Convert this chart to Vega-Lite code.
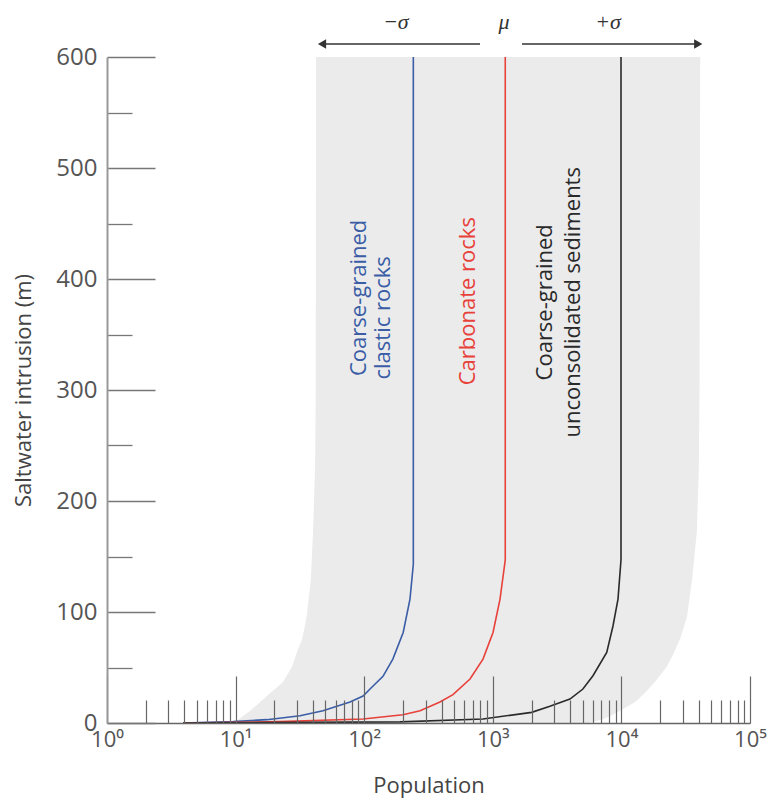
{
  "$schema": "https://vega.github.io/schema/vega-lite/v6.json",
  "width": 643,
  "height": 666,
  "autosize": {"type": "none"},
  "padding": {"left": 107, "top": 57, "right": 21, "bottom": 76},
  "background": "white",
  "config": {"view": {"stroke": null}, "font": "Open Sans"},
  "datasets": {
    "band": [
      {"y": 0, "pop": 9, "hi": 5500},
      {"y": 3, "pop": 10.5, "hi": 7000},
      {"y": 6.5, "pop": 11.5, "hi": 8300},
      {"y": 11, "pop": 13, "hi": 9750},
      {"y": 19, "pop": 15.5, "hi": 12800},
      {"y": 28, "pop": 19, "hi": 15500},
      {"y": 37, "pop": 23.4, "hi": 18200},
      {"y": 51, "pop": 27.5, "hi": 22600},
      {"y": 64, "pop": 30, "hi": 25800},
      {"y": 76, "pop": 33, "hi": 28600},
      {"y": 96, "pop": 35.7, "hi": 32400},
      {"y": 130, "pop": 38.5, "hi": 35500},
      {"y": 172, "pop": 40, "hi": 38600},
      {"y": 230, "pop": 41.5, "hi": 40000},
      {"y": 300, "pop": 42, "hi": 40500},
      {"y": 600, "pop": 42.2, "hi": 41000}
    ],
    "lines": [
      {"s": "clastic", "pop": 3.9, "y": 0},
      {"s": "clastic", "pop": 9.5, "y": 1.2},
      {"s": "clastic", "pop": 17.5, "y": 3},
      {"s": "clastic", "pop": 31.7, "y": 6.6},
      {"s": "clastic", "pop": 47.8, "y": 11},
      {"s": "clastic", "pop": 77.6, "y": 18.9},
      {"s": "clastic", "pop": 98, "y": 24.3},
      {"s": "clastic", "pop": 111, "y": 30.6},
      {"s": "clastic", "pop": 140, "y": 42},
      {"s": "clastic", "pop": 167, "y": 57.6},
      {"s": "clastic", "pop": 201, "y": 81.6},
      {"s": "clastic", "pop": 227, "y": 111.6},
      {"s": "clastic", "pop": 241, "y": 143},
      {"s": "clastic", "pop": 241, "y": 600},
      {"s": "carbonate", "pop": 3.9, "y": 0},
      {"s": "carbonate", "pop": 22, "y": 1.2},
      {"s": "carbonate", "pop": 98, "y": 3.6},
      {"s": "carbonate", "pop": 200, "y": 7.5},
      {"s": "carbonate", "pop": 272, "y": 11},
      {"s": "carbonate", "pop": 388, "y": 19},
      {"s": "carbonate", "pop": 490, "y": 25.5},
      {"s": "carbonate", "pop": 665, "y": 39.6},
      {"s": "carbonate", "pop": 839, "y": 57.6},
      {"s": "carbonate", "pop": 1004, "y": 81.6},
      {"s": "carbonate", "pop": 1138, "y": 111.6},
      {"s": "carbonate", "pop": 1250, "y": 147},
      {"s": "carbonate", "pop": 1250, "y": 600},
      {"s": "sediments", "pop": 3.9, "y": 0},
      {"s": "sediments", "pop": 190, "y": 1},
      {"s": "sediments", "pop": 839, "y": 3.6},
      {"s": "sediments", "pop": 2005, "y": 9.6},
      {"s": "sediments", "pop": 2780, "y": 15},
      {"s": "sediments", "pop": 3980, "y": 21.6},
      {"s": "sediments", "pop": 5020, "y": 30.6},
      {"s": "sediments", "pop": 6010, "y": 42.6},
      {"s": "sediments", "pop": 7690, "y": 63.6},
      {"s": "sediments", "pop": 8610, "y": 87.6},
      {"s": "sediments", "pop": 9410, "y": 111.6},
      {"s": "sediments", "pop": 9930, "y": 147},
      {"s": "sediments", "pop": 9930, "y": 600}
    ],
    "labels": [
      {"s": "clastic", "text": "Coarse-grained", "pop": 91, "y": 383},
      {"s": "clastic", "text": "clastic rocks", "pop": 140, "y": 365},
      {"s": "carbonate", "text": "Carbonate rocks", "pop": 642, "y": 380},
      {"s": "sediments", "text": "Coarse-grained", "pop": 2546, "y": 379},
      {"s": "sediments", "text": "unconsolidated sediments", "pop": 4206, "y": 379}
    ],
    "arrows": [
      {"pop": 795, "to": 50, "y": 611.7},
      {"pop": 1687, "to": 38500, "y": 611.7}
    ],
    "heads": [
      {"pop": 47, "y": 611.7, "shape": "triangle-left"},
      {"pop": 39600, "y": 611.7, "shape": "triangle-right"}
    ],
    "sigma": [
      {"text": "−σ", "pop": 176, "y": 631.5},
      {"text": "μ", "pop": 1222, "y": 631.5},
      {"text": "+σ", "pop": 7870, "y": 631.5}
    ]
  },
  "encoding": {
    "y": {
      "field": "y", "type": "quantitative",
      "scale": {"domain": [0, 600], "nice": false},
      "axis": {
        "title": "Saltwater intrusion (m)",
        "zindex": 1,
        "values": [0, 50, 100, 150, 200, 250, 300, 350, 400, 450, 500, 550, 600],
        "labelExpr": "datum.value % 100 == 0 ? datum.label : ''",
        "tickSize": {"condition": {"test": "datum.value % 100 == 0", "value": -48}, "value": -25},
        "tickColor": "#777",
        "tickWidth": 1.3,
        "domainColor": "#999",
        "domainWidth": 2,
        "labelFontSize": 24,
        "labelColor": "#555",
        "labelPadding": 58,
        "labelFont": "Open Sans",
        "titleFont": "Open Sans",
        "titleFontSize": 22,
        "titleFontWeight": "normal",
        "titleColor": "#444",
        "titlePadding": 20,
        "grid": false
      }
    },
    "x": {
      "field": "pop", "type": "quantitative",
      "scale": {"type": "log", "domain": [1, 100000], "nice": false},
      "axis": {
        "title": "Population",
        "zindex": 1,
        "values": [1, 2, 3, 4, 5, 6, 7, 8, 9, 10, 20, 30, 40, 50, 60, 70, 80, 90, 100, 200, 300, 400, 500, 600, 700, 800, 900, 1000, 2000, 3000, 4000, 5000, 6000, 7000, 8000, 9000, 10000, 20000, 30000, 40000, 50000, 60000, 70000, 80000, 90000, 100000],
        "labelExpr": "datum.value == 1 ? '10⁰' : datum.value == 10 ? '10¹' : datum.value == 100 ? '10²' : datum.value == 1000 ? '10³' : datum.value == 10000 ? '10⁴' : datum.value == 100000 ? '10⁵' : ''",
        "tickSize": {"condition": {"test": "indexof([1, 10, 100, 1000, 10000, 100000], datum.value) >= 0", "value": -47}, "value": -23},
        "tickColor": "#666",
        "tickWidth": 1.2,
        "domainColor": "#666",
        "domainWidth": 1.5,
        "labelFontSize": 22,
        "labelColor": "#555",
        "labelPadding": 53,
        "labelFlush": false,
        "labelOverlap": false,
        "labelFont": "Open Sans",
        "titleFont": "Open Sans",
        "titleFontSize": 22,
        "titleFontWeight": "normal",
        "titleColor": "#444",
        "titlePadding": 1,
        "grid": false
      }
    }
  },
  "layer": [
    {
      "data": {"name": "band"},
      "mark": {"type": "area", "orient": "horizontal", "color": "#ebebeb", "opacity": 1},
      "encoding": {
        "x2": {"field": "hi"}
      }
    },
    {
      "data": {"name": "lines"},
      "mark": {"type": "line", "strokeWidth": 1.6},
      "encoding": {
        "order": {"field": "y", "type": "quantitative"},
        "color": {
          "field": "s", "type": "nominal", "legend": null,
          "scale": {"domain": ["clastic", "carbonate", "sediments"], "range": ["#3a5da6", "#e8413a", "#2a2a2a"]}
        }
      }
    },
    {
      "data": {"name": "labels"},
      "mark": {"type": "text", "angle": 270, "align": "center", "baseline": "middle", "fontSize": 22, "font": "Open Sans"},
      "encoding": {
        "text": {"field": "text"},
        "color": {
          "field": "s", "type": "nominal", "legend": null,
          "scale": {"domain": ["clastic", "carbonate", "sediments"], "range": ["#4a6fb5", "#e8413a", "#444444"]}
        }
      }
    },
    {
      "data": {"name": "arrows"},
      "mark": {"type": "rule", "color": "#333", "strokeWidth": 1.5},
      "encoding": {
        "x2": {"field": "to"}
      }
    },
    {
      "data": {"name": "heads"},
      "mark": {"type": "point", "filled": true, "color": "#333", "size": 90, "opacity": 1},
      "encoding": {
        "shape": {"field": "shape", "type": "nominal", "scale": null, "legend": null}
      }
    },
    {
      "data": {"name": "sigma"},
      "mark": {"type": "text", "align": "center", "baseline": "middle", "fontSize": 22, "font": "Liberation Serif", "fontStyle": "italic", "color": "#333"},
      "encoding": {
        "text": {"field": "text"}
      }
    }
  ]
}
